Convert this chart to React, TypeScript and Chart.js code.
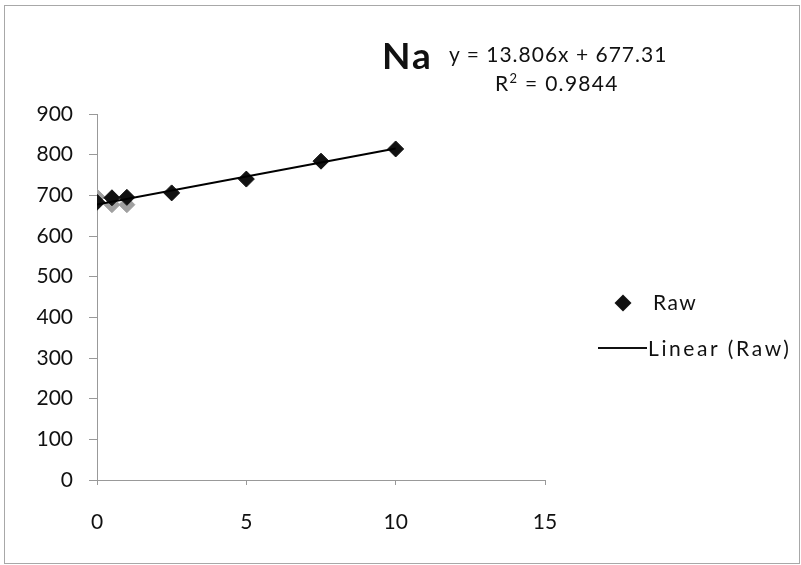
import React, { useEffect, useRef } from "react";
import { Chart, registerables } from "chart.js";

Chart.register(...registerables);

const rawX = [0, 0.5, 1, 2.5, 5, 7.5, 10];
const rawY = [683, 694, 695, 706, 740, 784, 814];
const grayX = [0, 0.5, 1];
const grayY = [696, 677, 677];
const trendX = [0, 10];
const trendY = [677.31, 815.37];
const yTicks = [0, 100, 200, 300, 400, 500, 600, 700, 800, 900];
const xTicks = [0, 5, 10, 15];

const FONT = "Lato, 'Open Sans', sans-serif";

export default function App() {
  const ref = useRef<HTMLCanvasElement | null>(null);
  useEffect(() => {
    if (!ref.current) return;
    const chart = new Chart(ref.current, {
      type: "scatter",
      data: {
        datasets: [
          {
            label: "Linear (Raw)",
            type: "line",
            data: trendX.map((x, i) => ({ x, y: trendY[i] })),
            borderColor: "#000",
            borderWidth: 2,
            pointRadius: 0,
            showLine: true,
            order: 0,
          },
          {
            label: "Raw",
            data: rawX.map((x, i) => ({ x, y: rawY[i] })),
            backgroundColor: "#111",
            borderColor: "#111",
            pointStyle: "rectRot",
            pointRadius: 8,
            borderWidth: 1,
            order: 1,
          },
          {
            label: "Gray",
            data: grayX.map((x, i) => ({ x, y: grayY[i] })),
            backgroundColor: "#a0a0a0",
            borderColor: "#a0a0a0",
            pointStyle: "rectRot",
            pointRadius: 8,
            borderWidth: 1,
            order: 2,
          },
        ],
      },
      options: {
        responsive: false,
        animation: false,
        layout: { padding: { top: 114, left: 0, right: 256, bottom: 0 } },
        plugins: { legend: { display: false }, tooltip: { enabled: false }, title: { display: false } },
        scales: {
          x: {
            type: "linear",
            min: 0,
            max: 15,
            afterBuildTicks: (s: any) => {
              s.ticks = xTicks.map((v) => ({ value: v }));
            },
            afterFit: (s: any) => {
              s.height = 85;
            },
            grid: { drawOnChartArea: false, drawTicks: true, tickLength: 5, color: "#999" },
            border: { color: "#999", width: 1 },
            ticks: { color: "#111", font: { family: FONT, size: 21 }, padding: 25 },
          },
          y: {
            type: "linear",
            min: 0,
            max: 900,
            afterBuildTicks: (s: any) => {
              s.ticks = yTicks.map((v) => ({ value: v }));
            },
            afterFit: (s: any) => {
              s.width = 97;
            },
            grid: { drawOnChartArea: false, drawTicks: true, tickLength: 8, color: "#999" },
            border: { color: "#999", width: 1 },
            ticks: { color: "#111", font: { family: FONT, size: 21 }, padding: 16 },
          },
        },
      },
    });
    return () => chart.destroy();
  }, []);

  const txt: React.CSSProperties = {
    position: "absolute",
    fontFamily: FONT,
    color: "#111",
    whiteSpace: "nowrap",
    lineHeight: "24px",
    height: 24,
    fontSize: 21,
  };

  return (
    <div style={{ position: "fixed", left: 0, top: 0, width: 801, height: 565, background: "#fff", overflow: "hidden" }}>
      <div
        style={{
          position: "absolute",
          left: 4,
          top: 5,
          width: 794,
          height: 557,
          border: "1px solid #a8a8a8",
        }}
      />
      <canvas ref={ref} width={801} height={565} style={{ position: "absolute", left: 0, top: 0 }} />
      <div style={{ ...txt, left: 382, top: 35, fontSize: 37, fontWeight: 700, lineHeight: "40px", height: 40, letterSpacing: 2 }}>Na</div>
      <div style={{ ...txt, left: 449, top: 42, letterSpacing: 1 }}>y = 13.806x + 677.31</div>
      <div style={{ ...txt, left: 495, top: 66, letterSpacing: 1.3 }}>
        R<sup style={{ fontSize: 13, verticalAlign: "8px" }}>2</sup> = 0.9844
      </div>
      <div
        style={{
          position: "absolute",
          left: 617,
          top: 297,
          width: 12,
          height: 12,
          background: "#111",
          transform: "rotate(45deg)",
        }}
      />
      <div style={{ ...txt, left: 653, top: 290, letterSpacing: 1.5 }}>Raw</div>
      <div style={{ position: "absolute", left: 598, top: 347, width: 49, height: 2, background: "#111" }} />
      <div style={{ ...txt, left: 648, top: 336, letterSpacing: 2.6 }}>Linear (Raw)</div>
    </div>
  );
}
